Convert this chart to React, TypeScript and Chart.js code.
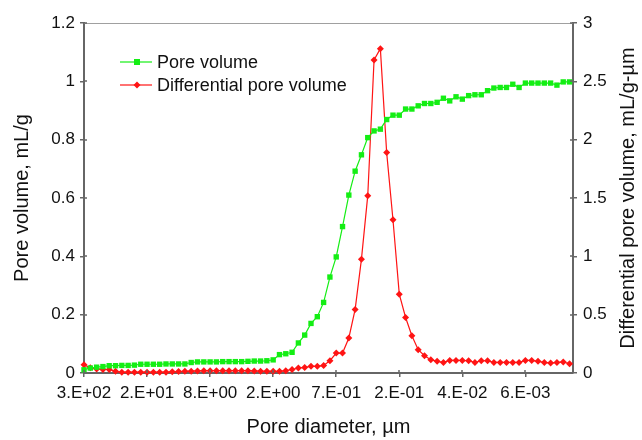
import React, { useEffect, useRef } from "react";
import { Chart, registerables } from "chart.js";

Chart.register(...registerables);

const xTickLabels = ["3.E+02", "2.E+01", "8.E+00", "2.E+00", "7.E-01", "2.E-01", "4.E-02", "6.E-03"];

const poreVolume = [
  0.011, 0.017, 0.02, 0.022, 0.025, 0.025, 0.026, 0.026, 0.027, 0.03,
  0.03, 0.03, 0.03, 0.031, 0.031, 0.031, 0.031, 0.036, 0.038, 0.038,
  0.038, 0.038, 0.039, 0.039, 0.039, 0.039, 0.04, 0.041, 0.041, 0.042,
  0.045, 0.063, 0.066, 0.071, 0.103, 0.13, 0.17, 0.193, 0.242, 0.329,
  0.398, 0.502, 0.61, 0.692, 0.748, 0.807, 0.83, 0.836, 0.869, 0.884,
  0.884, 0.905, 0.905, 0.916, 0.924, 0.924, 0.928, 0.942, 0.933, 0.947,
  0.939, 0.951, 0.954, 0.954, 0.968, 0.977, 0.979, 0.979, 0.99, 0.979,
  0.994, 0.994, 0.994, 0.994, 0.994, 0.987, 0.998, 0.998,
];

const diffPoreVolume = [
  0.07, 0.045, 0.035, 0.03, 0.03, 0.014, 0.007, 0.007, 0.007, 0.007,
  0.007, 0.007, 0.007, 0.007, 0.01, 0.012, 0.014, 0.016, 0.018, 0.02,
  0.02, 0.02, 0.02, 0.02, 0.02, 0.02, 0.02, 0.018, 0.016, 0.014,
  0.014, 0.014, 0.02, 0.03, 0.043, 0.048, 0.057, 0.057, 0.065, 0.105,
  0.171, 0.171, 0.3, 0.545, 0.976, 1.52, 2.683, 2.78, 1.889, 1.313,
  0.676, 0.476, 0.319, 0.2, 0.148, 0.114, 0.1, 0.091, 0.108, 0.108,
  0.108, 0.105, 0.091, 0.105, 0.105, 0.091, 0.091, 0.091, 0.091, 0.091,
  0.108, 0.108, 0.1, 0.091, 0.085, 0.091, 0.094, 0.08,
];

const seriesNames = ["Pore volume", "Differential pore volume"];
const axisTitles = ["Pore diameter, µm", "Pore volume, mL/g", "Differential pore volume, mL/g-µm"];
const GREEN = "#14ee14";
const RED = "#ff1414";
const AXIS = "#666666";
const FONT = "'Liberation Sans', Arial, Helvetica, sans-serif";

const fmt = (v: any) => String(Number(Number(v).toFixed(2)));

const decorPlugin = {
  id: "decor",
  afterDraw(chart: any) {
    const { ctx, chartArea, scales } = chart;
    ctx.save();
    // top border
    ctx.strokeStyle = "#a0a0a0";
    ctx.lineWidth = 1;
    ctx.beginPath();
    ctx.moveTo(chartArea.left, chartArea.top + 0.5);
    ctx.lineTo(chartArea.right, chartArea.top + 0.5);
    ctx.stroke();
    // inner tick marks
    ctx.strokeStyle = AXIS;
    ctx.lineWidth = 1.5;
    const inLen = 3;
    scales.x.ticks.forEach((t: any) => {
      const px = Math.round(scales.x.getPixelForValue(t.value));
      ctx.beginPath();
      ctx.moveTo(px, chartArea.bottom);
      ctx.lineTo(px, chartArea.bottom - inLen);
      ctx.stroke();
    });
    scales.y.ticks.forEach((t: any) => {
      const py = Math.round(scales.y.getPixelForValue(t.value));
      ctx.beginPath();
      ctx.moveTo(chartArea.left, py);
      ctx.lineTo(chartArea.left + inLen, py);
      ctx.stroke();
    });
    scales.y1.ticks.forEach((t: any) => {
      const py = Math.round(scales.y1.getPixelForValue(t.value));
      ctx.beginPath();
      ctx.moveTo(chartArea.right, py);
      ctx.lineTo(chartArea.right - inLen, py);
      ctx.stroke();
    });
    // right axis title, reading bottom-to-top
    ctx.save();
    ctx.translate(628, (chartArea.top + chartArea.bottom) / 2);
    ctx.rotate(-Math.PI / 2);
    ctx.font = `20px ${FONT}`;
    ctx.fillStyle = "#111";
    ctx.textAlign = "center";
    ctx.textBaseline = "middle";
    ctx.fillText(axisTitles[2], 0, 0);
    ctx.restore();
    // legend
    const items = [
      { label: seriesNames[0], color: GREEN, style: "rect", y: 62 },
      { label: seriesNames[1], color: RED, style: "rectRot", y: 85 },
    ];
    ctx.font = `18px ${FONT}`;
    ctx.textBaseline = "middle";
    ctx.textAlign = "left";
    items.forEach((it) => {
      ctx.strokeStyle = it.color;
      ctx.lineWidth = 1.2;
      ctx.beginPath();
      ctx.moveTo(120, it.y);
      ctx.lineTo(152, it.y);
      ctx.stroke();
      ctx.fillStyle = it.color;
      if (it.style === "rect") {
        ctx.fillRect(134, it.y - 3, 6, 6);
      } else {
        ctx.beginPath();
        ctx.moveTo(137, it.y - 3.5);
        ctx.lineTo(140.5, it.y);
        ctx.lineTo(137, it.y + 3.5);
        ctx.lineTo(133.5, it.y);
        ctx.closePath();
        ctx.fill();
      }
      ctx.fillStyle = "#111";
      ctx.fillText(it.label, 157, it.y + 1);
    });
    ctx.restore();
  },
};

export default function App() {
  const ref = useRef<HTMLCanvasElement | null>(null);
  useEffect(() => {
    document.body.style.margin = "0";
    const canvas = ref.current;
    if (!canvas) return;
    const chart = new Chart(canvas, {
      type: "line",
      data: {
        datasets: [
          {
            label: seriesNames[0],
            data: poreVolume.map((v, i) => ({ x: i, y: v })),
            borderColor: GREEN,
            backgroundColor: GREEN,
            borderWidth: 1.2,
            pointStyle: "rect",
            pointRadius: 3.8,
            pointBorderWidth: 0,
            yAxisID: "y",
            clip: false,
          },
          {
            label: seriesNames[1],
            data: diffPoreVolume.map((v, i) => ({ x: i, y: v })),
            borderColor: RED,
            backgroundColor: RED,
            borderWidth: 1.2,
            pointStyle: "rectRot",
            pointRadius: 3.5,
            pointBorderWidth: 0,
            yAxisID: "y1",
            clip: false,
          },
        ],
      },
      options: {
        animation: false,
        responsive: false,
        layout: { padding: { top: 23, left: 0, right: 0, bottom: 0 } },
        plugins: { legend: { display: false }, tooltip: { enabled: false } },
        scales: {
          x: {
            type: "linear",
            min: 0,
            max: 77.55,
            afterBuildTicks: (scale: any) => {
              scale.ticks = xTickLabels.map((_, k) => ({ value: k * 10 }));
            },
            afterFit: (scale: any) => {
              scale.height = 67;
            },
            ticks: {
              callback: (v: any) => xTickLabels[Math.round(Number(v) / 10)] ?? "",
              color: "#111",
              font: { family: FONT, size: 17 },
              padding: 6,
              maxRotation: 0,
              autoSkip: false,
            },
            grid: { drawOnChartArea: false, drawTicks: true, tickLength: 4, color: AXIS, lineWidth: 1.5 },
            border: { display: true, color: AXIS, width: 2 },
            title: {
              display: true,
              text: axisTitles[0],
              color: "#111",
              font: { family: FONT, size: 20 },
              padding: { top: 0, bottom: 1 },
            },
          },
          y: {
            type: "linear",
            position: "left",
            min: 0,
            max: 1.2,
            ticks: {
              stepSize: 0.2,
              callback: fmt,
              color: "#111",
              font: { family: FONT, size: 17 },
              padding: 5,
            },
            afterFit: (scale: any) => {
              scale.width = 84;
            },
            grid: { drawOnChartArea: false, drawTicks: true, tickLength: 4, color: AXIS, lineWidth: 1.5 },
            border: { display: true, color: AXIS, width: 2 },
            title: {
              display: true,
              text: axisTitles[1],
              color: "#111",
              font: { family: FONT, size: 20 },
              padding: { top: 10, bottom: 0 },
            },
          },
          y1: {
            type: "linear",
            position: "right",
            min: 0,
            max: 3,
            ticks: {
              stepSize: 0.5,
              callback: fmt,
              color: "#111",
              font: { family: FONT, size: 17 },
              padding: 6,
            },
            afterFit: (scale: any) => {
              scale.width = 69;
            },
            grid: { drawOnChartArea: false, drawTicks: true, tickLength: 4, color: AXIS, lineWidth: 1.5 },
            border: { display: true, color: AXIS, width: 2 },
            title: { display: false },
          },
        },
      },
      plugins: [decorPlugin],
    });
    return () => chart.destroy();
  }, []);
  return (
    <div style={{ width: 642, height: 440 }}>
      <canvas ref={ref} width={642} height={440} style={{ display: "block" }} />
    </div>
  );
}
